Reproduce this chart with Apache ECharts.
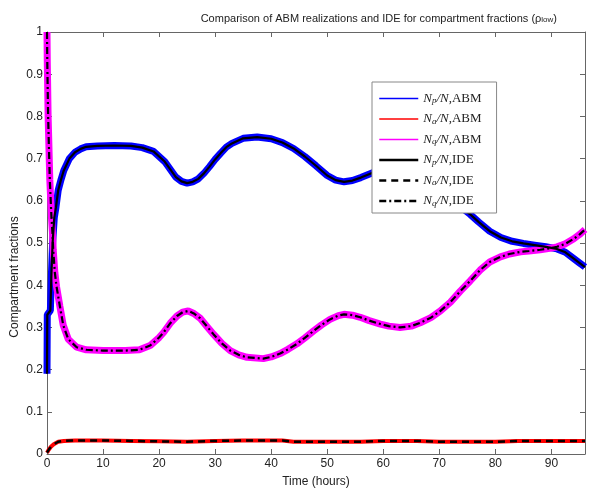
<!DOCTYPE html>
<html>
<head>
<meta charset="utf-8">
<script src="https://cdn.jsdelivr.net/npm/echarts@6/dist/echarts.min.js"></script>
<style>
html,body{margin:0;padding:0;background:#fff;}
#chart{width:589px;height:493px;}
</style>
</head>
<body>
<div id="chart"></div>
<script>
// ---- data ----
var xTicks = [0, 10, 20, 30, 40, 50, 60, 70, 80, 90];
var yTicks = [0, 0.1, 0.2, 0.3, 0.4, 0.5, 0.6, 0.7, 0.8, 0.9, 1];

var tNp = [0, 0.05, 0.3, 0.6, 0.8, 1.0, 1.3, 1.6, 2.0, 2.5, 3, 4, 5, 6, 7, 9, 12, 15, 17, 19, 21, 23, 24, 25, 26, 27, 28, 29, 30, 31, 32, 33, 35, 37.5, 40, 42, 44, 46, 48, 50, 51.5, 53, 54.5, 56, 58, 60, 63, 66, 69, 72, 75.5, 77, 79, 81, 83, 85, 87, 89, 91, 92.5, 94, 95, 96];
var np = [0.19, 0.33, 0.33, 0.34, 0.43, 0.50, 0.56, 0.585, 0.625, 0.65, 0.672, 0.70, 0.715, 0.723, 0.728, 0.73, 0.731, 0.73, 0.726, 0.717, 0.693, 0.656, 0.646, 0.642, 0.645, 0.652, 0.665, 0.681, 0.698, 0.713, 0.727, 0.736, 0.748, 0.751, 0.747, 0.738, 0.724, 0.705, 0.683, 0.660, 0.649, 0.645, 0.648, 0.655, 0.666, 0.673, 0.674, 0.66, 0.635, 0.605, 0.568, 0.55, 0.528, 0.513, 0.504, 0.499, 0.495, 0.491, 0.486, 0.478, 0.463, 0.453, 0.443];

var tNq = [0, 0.05, 0.2, 0.5, 0.8, 1.0, 1.1, 1.4, 1.7, 2.3, 2.9, 3.8, 5.3, 7, 10, 14, 16.5, 18.4, 20, 20.8, 22, 23.2, 24.2, 25.2, 26.2, 27.3, 28.5, 29.7, 31.2, 32.7, 34.2, 35.7, 38.6, 40, 41.6, 43, 44.6, 46, 47.6, 49, 50.5, 52, 53, 54.5, 55.9, 57.5, 59.5, 61, 63, 65, 66.6, 68.5, 70.2, 72, 73.75, 75.5, 77.3, 79, 80.9, 82.5, 84.5, 86, 88, 90, 91, 92.5, 94, 95, 96];
var nq = [1.0, 0.93, 0.8, 0.65, 0.56, 0.52, 0.485, 0.43, 0.397, 0.35, 0.305, 0.272, 0.253, 0.247, 0.245, 0.245, 0.247, 0.257, 0.276, 0.288, 0.31, 0.327, 0.336, 0.339, 0.333, 0.322, 0.303, 0.284, 0.262, 0.245, 0.235, 0.229, 0.226, 0.23, 0.238, 0.248, 0.261, 0.275, 0.292, 0.306, 0.319, 0.328, 0.331, 0.329, 0.324, 0.316, 0.308, 0.303, 0.30, 0.303, 0.311, 0.323, 0.339, 0.36, 0.386, 0.41, 0.436, 0.455, 0.467, 0.474, 0.479, 0.481, 0.484, 0.488, 0.491, 0.498, 0.51, 0.52, 0.532];

var tNa = [0, 0.3, 0.7, 1.2, 2, 3, 5, 10, 15, 20, 25, 30, 35, 42, 44, 50, 56, 60, 66, 70, 80, 84, 96];
var na = [0.003, 0.01, 0.017, 0.023, 0.029, 0.031, 0.032, 0.032, 0.031, 0.030, 0.029, 0.031, 0.032, 0.032, 0.029, 0.029, 0.029, 0.031, 0.031, 0.029, 0.029, 0.031, 0.031];

var seriesNames = ['Np ABM', 'Na ABM', 'Nq ABM', 'Np IDE', 'Na IDE', 'Nq IDE'];
var legendLabels = {
  'Np ABM': '{i|N}{s|p}{i|/N}{r|,ABM}',
  'Na ABM': '{i|N}{s|a}{i|/N}{r|,ABM}',
  'Nq ABM': '{i|N}{s|q}{i|/N}{r|,ABM}',
  'Np IDE': '{i|N}{s|p}{i|/N}{r|,IDE}',
  'Na IDE': '{i|N}{s|a}{i|/N}{r|,IDE}',
  'Nq IDE': '{i|N}{s|q}{i|/N}{r|,IDE}'
};

function pairs(t, v) {
  var out = [];
  for (var i = 0; i < t.length; i++) out.push([t[i], v[i]]);
  return out;
}

var chart = echarts.init(document.getElementById('chart'), null, {renderer: 'canvas'});
var axisColor = '#666';
var sans = 'Liberation Sans, Arial, sans-serif';
var serif = 'Liberation Serif, Times New Roman, serif';

var option = {
  backgroundColor: '#fff',
  animation: false,
  title: {
    text: 'Comparison of ABM realizations and IDE for compartment fractions (ρ{sub|low})',
    right: 27,
    top: 8,
    textStyle: {
      fontFamily: sans, fontSize: 11, fontWeight: 'normal', color: '#222',
      rich: {
        sub: {fontFamily: sans, fontSize: 8, color: '#222', verticalAlign: 'bottom', padding: [5, 0, 0, 0], lineHeight: 8}
      }
    }
  },
  grid: {left: 47, right: 4, top: 32, bottom: 33, containLabel: false},
  legend: {
    orient: 'vertical',
    left: 372,
    top: 82,
    itemWidth: 39,
    itemHeight: 14,
    itemGap: 7,
    padding: [10, 15, 5, 6],
    backgroundColor: '#fff',
    borderColor: '#888',
    borderWidth: 1,
    borderRadius: 0,
    z: 10,
    data: seriesNames.map(function (n, k) {
      return {
        name: n,
        lineStyle: {width: k < 3 ? 1.5 : 2.5},
        itemStyle: {color: 'rgba(0,0,0,0)', borderColor: 'rgba(0,0,0,0)', borderWidth: 0, opacity: 0}
      };
    }),
    formatter: function (name) { return legendLabels[name]; },
    textStyle: {
      color: '#222',
      rich: {
        i: {fontFamily: serif, fontStyle: 'italic', fontSize: 13, lineHeight: 14, color: '#222'},
        s: {fontFamily: serif, fontStyle: 'italic', fontSize: 9, lineHeight: 9, padding: [4, 0, 0, 0], verticalAlign: 'bottom', color: '#222'},
        r: {fontFamily: serif, fontSize: 13, lineHeight: 14, color: '#222'}
      }
    }
  },
  graphic: [{
    type: 'text',
    x: 15, y: 277,
    rotation: Math.PI / 2,
    style: {text: 'Compartment fractions', font: '12px ' + sans, fill: '#222', textAlign: 'center', textVerticalAlign: 'middle'}
  }],
  xAxis: [{
    type: 'value', min: xTicks[0], max: 96, interval: 10, position: 'bottom',
    name: 'Time (hours)', nameLocation: 'middle', nameGap: 22,
    nameTextStyle: {fontFamily: sans, fontSize: 12, color: '#222'},
    axisLine: {show: true, onZero: false, lineStyle: {color: axisColor, width: 1}},
    axisTick: {show: true, inside: true, length: 5, lineStyle: {color: axisColor}},
    axisLabel: {fontFamily: sans, fontSize: 12, color: '#222', margin: 4, showMaxLabel: false},
    splitLine: {show: false}
  }, {
    type: 'value', min: xTicks[0], max: 96, interval: 10, position: 'top',
    axisLine: {show: true, onZero: false, lineStyle: {color: axisColor, width: 1}},
    axisTick: {show: true, inside: true, length: 5, lineStyle: {color: axisColor}},
    axisLabel: {show: false},
    splitLine: {show: false}
  }],
  yAxis: [{
    type: 'value', min: yTicks[0], max: yTicks[yTicks.length - 1], interval: 0.1, position: 'left',
    axisLine: {show: true, onZero: false, lineStyle: {color: axisColor, width: 1}},
    axisTick: {show: true, inside: true, length: 5, lineStyle: {color: axisColor}},
    axisLabel: {fontFamily: sans, fontSize: 12, color: '#222', margin: 4,
      formatter: function (v) { return String(Math.round(v * 10) / 10); }},
    splitLine: {show: false}
  }, {
    type: 'value', min: yTicks[0], max: yTicks[yTicks.length - 1], interval: 0.1, position: 'right',
    axisLine: {show: true, onZero: false, lineStyle: {color: axisColor, width: 1}},
    axisTick: {show: true, inside: true, length: 5, lineStyle: {color: axisColor}},
    axisLabel: {show: false},
    splitLine: {show: false}
  }],
  series: [
    {name: 'Np ABM', type: 'line', data: pairs(tNp, np), symbol: 'none', z: 2,
      lineStyle: {color: '#0000ff', width: 7}, itemStyle: {color: '#0000ff'}},
    {name: 'Na ABM', type: 'line', data: pairs(tNa, na), symbol: 'none', z: 2,
      lineStyle: {color: '#ff0000', width: 4}, itemStyle: {color: '#ff0000'}},
    {name: 'Nq ABM', type: 'line', data: pairs(tNq, nq), symbol: 'none', z: 2,
      lineStyle: {color: '#ff00ff', width: 7}, itemStyle: {color: '#ff00ff'}},
    {name: 'Np IDE', type: 'line', data: pairs(tNp, np), symbol: 'none', z: 3,
      lineStyle: {color: '#000', width: 2.2}, itemStyle: {color: '#000'}},
    {name: 'Na IDE', type: 'line', data: pairs(tNa, na), symbol: 'none', z: 3,
      lineStyle: {color: '#000', width: 2.5, type: [7, 5]}, itemStyle: {color: '#000'}},
    {name: 'Nq IDE', type: 'line', data: pairs(tNq, nq), symbol: 'none', z: 3,
      lineStyle: {color: '#000', width: 2.2, type: [7, 3, 2, 3]}, itemStyle: {color: '#000'}}
  ]
};
chart.setOption(option);
</script>
</body>
</html>
